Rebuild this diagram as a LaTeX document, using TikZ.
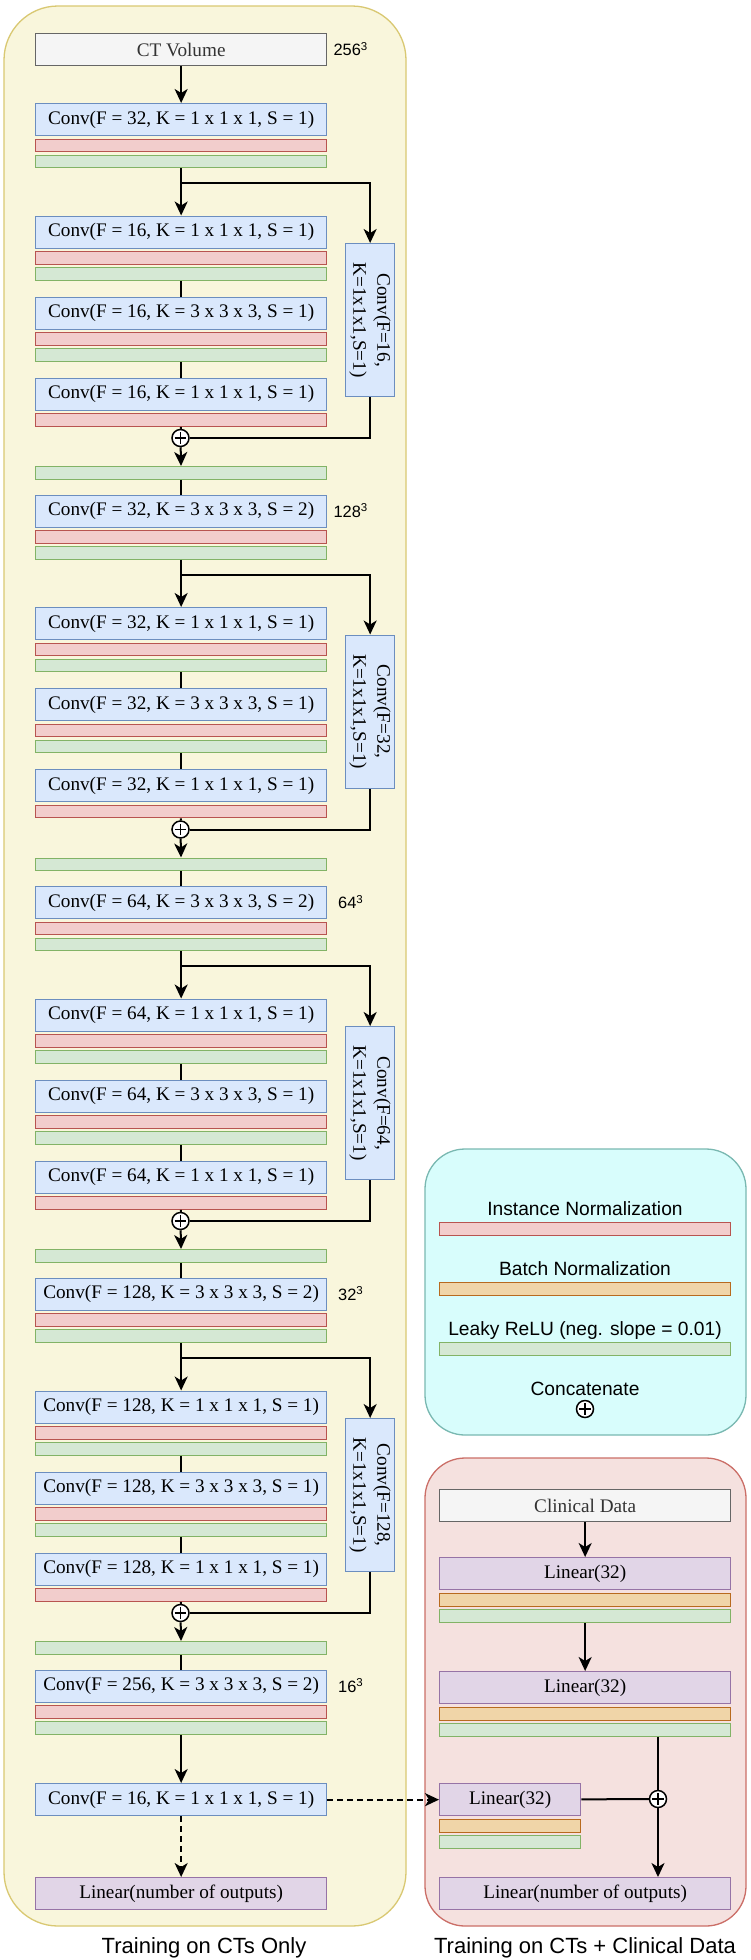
\documentclass[tikz,border=0pt]{standalone}
\usepackage{fontspec}
\usepackage{graphicx}
\setmainfont{Liberation Serif}
\newfontfamily\labelsans{Liberation Sans}
\usetikzlibrary{arrows.meta}

\definecolor{convfill}{HTML}{DAE8FC}
\definecolor{convline}{HTML}{6C8EBF}
\definecolor{infill}{HTML}{F2CDCC}
\definecolor{inline}{HTML}{B85450}
\definecolor{relufill}{HTML}{D5E8D4}
\definecolor{reluline}{HTML}{82B366}
\definecolor{bnfill}{HTML}{F0D5A8}
\definecolor{bnline}{HTML}{B86A1E}
\definecolor{linfill}{HTML}{E1D5E7}
\definecolor{linline}{HTML}{9673A6}
\definecolor{datafill}{HTML}{F5F5F5}
\definecolor{dataline}{HTML}{666666}
\definecolor{datatext}{HTML}{333333}
\definecolor{ctfill}{HTML}{F9F6DC}
\definecolor{ctline}{HTML}{D9C872}
\definecolor{legfill}{HTML}{D8FDFC}
\definecolor{legline}{HTML}{79B8B1}
\definecolor{clinfill}{HTML}{F5E1DF}
\definecolor{clinline}{HTML}{CB6E67}

\newcommand\layerfont{\fontsize{9.6}{12}\selectfont}

\tikzset{
    layer/.style={draw, line width=0.65pt, anchor=north west, minimum width=145.5pt,
        minimum height=16pt, inner sep=0pt, font=\layerfont},
    conv/.style={layer, draw=convline, fill=convfill},
    linear/.style={layer, draw=linline, fill=linfill},
    datain/.style={layer, draw=dataline, fill=datafill, text=datatext},
    bar/.style={draw, line width=0.65pt, anchor=north west, minimum width=145.5pt,
        minimum height=6.25pt, inner sep=0pt},
    inorm/.style={bar, draw=inline, fill=infill},
    bnorm/.style={bar, draw=bnline, fill=bnfill},
    relu/.style={bar, draw=reluline, fill=relufill},
    side/.style={draw=convline, fill=convfill, line width=0.65pt, anchor=north west,
        minimum width=24.5pt, minimum height=76.5pt, inner sep=0pt, font=\layerfont},
    add/.style={circle, draw, line width=0.75pt, fill=white, minimum size=8.5pt, inner sep=0pt,
        path picture={\draw[line width=0.6pt]
            ([yshift=-1.3pt]path picture bounding box.north) -- ([yshift=1.3pt]path picture bounding box.south)
            ([xshift=1.3pt]path picture bounding box.west) -- ([xshift=-1.3pt]path picture bounding box.east);}},
    sizelab/.style={font=\labelsans\fontsize{8.2}{10}\selectfont, inner sep=0pt},
    legtext/.style={font=\labelsans\fontsize{9.6}{11}\selectfont, anchor=base, inner sep=0pt},
    caption/.style={font=\labelsans\fontsize{11}{13}\selectfont, anchor=base, inner sep=0pt},
    conn/.style={line width=1pt},
    arrow/.style={conn, -{Stealth[length=7pt, width=6.5pt, inset=2pt]}},
    dasharrow/.style={arrow, dash pattern=on 2.75pt off 2.25pt},
}

\begin{document}
\begin{tikzpicture}[x=0.5pt, y=-0.5pt]

    % Fix the page size
    \useasboundingbox (0,0) rectangle (750,1960);

    % Draw the containers
    \draw[fill=ctfill, draw=ctline, line width=0.65pt, rounded corners=27pt] (4,6) rectangle (406,1926);
    \draw[fill=legfill, draw=legline, line width=0.65pt, rounded corners=20pt] (425,1149) rectangle (746,1435);
    \draw[fill=clinfill, draw=clinline, line width=0.65pt, rounded corners=20pt] (425,1458) rectangle (746,1926);

    % Input volume and first convolution
    \node[datain] (ct) at (35,33) {CT Volume};
    \node[sizelab] (sz1) at (351,49) {256\textsuperscript{3}};
    \node[conv] (entry1) at (35,103) {Conv(F = 32, K = 1 x 1 x 1, S = 1)};
    \node[inorm] (entry1-r) at (35,138.5) {};
    \node[relu] (entry1-g) at (35,154.5) {};
    \draw[arrow] (ct) -- (entry1);

    % Residual blocks, each followed by a strided convolution
    \foreach \i/\ey/\fa/\fb/\sz in {1/103/16/32/128, 2/494.5/32/64/64, 3/886/64/128/32, 4/1278/128/256/16}{
        \pgfmathtruncatemacro\j{\i+1}
        \node[conv] (blk\i-1) at (35,\ey+112.5) {Conv(F = \fa, K = 1 x 1 x 1, S = 1)};
        \node[inorm] (blk\i-1r) at (35,\ey+148) {};
        \node[relu] (blk\i-1g) at (35,\ey+164) {};
        \node[conv] (blk\i-2) at (35,\ey+193.5) {Conv(F = \fa, K = 3 x 3 x 3, S = 1)};
        \node[inorm] (blk\i-2r) at (35,\ey+229) {};
        \node[relu] (blk\i-2g) at (35,\ey+245) {};
        \node[conv] (blk\i-3) at (35,\ey+274.5) {Conv(F = \fa, K = 1 x 1 x 1, S = 1)};
        \node[inorm] (blk\i-3r) at (35,\ey+310) {};
        \node[side] (side\i) at (345,\ey+140)
            {\rotatebox{-90}{\begin{tabular}{@{}c@{}}Conv(F=\fa,\\K=1x1x1,S=1)\end{tabular}}};
        \node[add] (add\i) at (180.5,\ey+335) {};
        \node[relu] (act\i) at (35,\ey+363) {};
        \node[conv] (entry\j) at (35,\ey+391.5) {Conv(F = \fb, K = 3 x 3 x 3, S = 2)};
        \node[inorm] (entry\j-r) at (35,\ey+427) {};
        \node[relu] (entry\j-g) at (35,\ey+443) {};
        \node[sizelab] (sz\j) at (351,\ey+407.5) {\sz\textsuperscript{3}};

        % Draw the connectors of the block
        \coordinate (br\i) at (180.5,\ey+80);
        \draw[arrow] (entry\i-g) -- (blk\i-1);
        \draw[arrow] (br\i) -| (side\i);
        \draw[conn] (blk\i-1g) -- (blk\i-2);
        \draw[conn] (blk\i-2g) -- (blk\i-3);
        \draw[conn] (blk\i-3r) -- (add\i);
        \draw[conn] (side\i) |- (add\i);
        \draw[arrow] (add\i) -- (act\i);
        \draw[conn] (act\i) -- (entry\j);
    }

    % Last convolution and output
    \node[conv] (final) at (35,1783) {Conv(F = 16, K = 1 x 1 x 1, S = 1)};
    \node[linear] (out1) at (35,1877) {Linear(number of outputs)};
    \draw[arrow] (entry5-g) -- (final);
    \draw[dasharrow] (final) -- (out1);

    % Legend
    \node[legtext] (lg-in) at (585,1215) {Instance Normalization};
    \node[inorm] (lg-inbar) at (439,1222) {};
    \node[legtext] (lg-bn) at (585,1275) {Batch Normalization};
    \node[bnorm] (lg-bnbar) at (439,1282) {};
    \node[legtext] (lg-relu) at (585,1335) {Leaky ReLU (neg. slope = 0.01)};
    \node[relu] (lg-relubar) at (439,1342) {};
    \node[legtext] (lg-cat) at (585,1395) {Concatenate};
    \node[add] (lg-add) at (585,1409) {};

    % Clinical data branch
    \node[datain] (clin) at (439,1489) {Clinical Data};
    \node[linear] (lin1) at (439,1557) {Linear(32)};
    \node[bnorm] (lin1-o) at (439,1593) {};
    \node[relu] (lin1-g) at (439,1609) {};
    \node[linear] (lin2) at (439,1671) {Linear(32)};
    \node[bnorm] (lin2-o) at (439,1707) {};
    \node[relu] (lin2-g) at (439,1723) {};
    \node[linear, minimum width=70.5pt] (lin3) at (439,1783) {Linear(32)};
    \node[bnorm, minimum width=70.5pt] (lin3-o) at (439,1819) {};
    \node[relu, minimum width=70.5pt] (lin3-g) at (439,1835) {};
    \node[add] (add5) at (658,1799) {};
    \node[linear] (out2) at (439,1877) {Linear(number of outputs)};

    \draw[arrow] (clin) -- (lin1);
    \draw[arrow] (lin1-g) -- (lin2);
    \draw[conn] (lin2-g.south -| add5) -- (add5);
    \draw[conn] (lin3) -- (add5);
    \draw[arrow] (add5) -- (add5 |- out2.north);
    \draw[dasharrow] (final) -- (lin3);

    % Captions
    \node[caption] (cap1) at (204,1953) {Training on CTs Only};
    \node[caption] (cap2) at (585,1953) {Training on CTs + Clinical Data};

\end{tikzpicture}
\end{document}
